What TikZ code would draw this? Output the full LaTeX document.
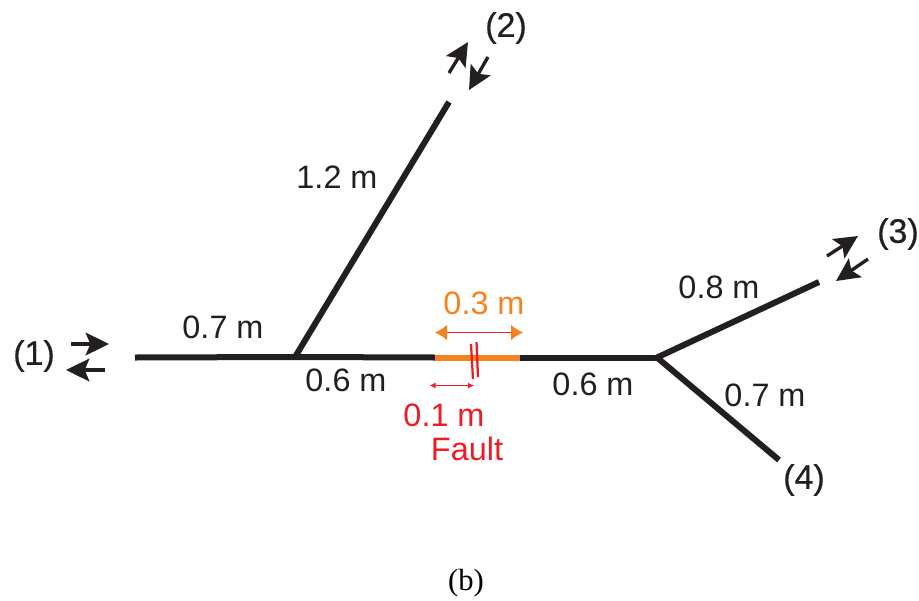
\documentclass[tikz,border=0pt]{standalone}
\usepackage{fontspec}
\setmainfont{Liberation Sans}
\newfontfamily\capfont{Liberation Serif}
\newfontfamily\portfont[FakeBold=0.5]{Liberation Sans}
\usetikzlibrary{arrows.meta}
\definecolor{cblack}{HTML}{231F20}
\definecolor{corange}{HTML}{F58220}
\definecolor{cred}{HTML}{ED1C24}
\tikzset{
  cable/.style={draw=cblack,line width=4.5bp},
  faulty/.style={draw=corange,line width=4.5bp},
  wave/.style={draw=cblack,line width=2.5bp,-{Stealth[length=17.5bp,width=17bp,inset=3.5bp]}},
  lab/.style={text=cblack,font=\fontsize{24.3bp}{28bp}\selectfont,inner sep=0pt},
  port/.style={text=cblack,font=\portfont\fontsize{25.5bp}{30bp}\selectfont,inner sep=0pt},
}
\begin{document}
\begin{tikzpicture}[x=0.75bp,y=-0.75bp]
\useasboundingbox (0,0) rectangle (919,601);
% junctions and ends
\coordinate (p1) at (135,357.5);
\coordinate (j1) at (295,357);
\coordinate (p2) at (449,102);
\coordinate (fa) at (435,357.5);
\coordinate (fb) at (520,357.5);
\coordinate (j2) at (657,357.5);
\coordinate (p3) at (819,282);
\coordinate (p4) at (779,460);
\draw[cable] (p1) -- (j1);
\draw[cable] (j1) -- (p2);
\draw[cable] (j1) -- (fa);
\draw[faulty] (fa) -- (fb);
\draw[cable] (fb) -- (j2);
\draw[cable] (j2) -- (p3);
\draw[cable] (j2) -- (p4);
% wave arrows
\coordinate (w1a) at (71,344); \coordinate (w1b) at (109,344);
\coordinate (w2a) at (105,370); \coordinate (w2b) at (66,370);
\draw[wave] (w1a) -- (w1b);
\draw[wave] (w2a) -- (w2b);
\coordinate (w3a) at (449,73); \coordinate (w3b) at (468,42);
\coordinate (w4a) at (488,57); \coordinate (w4b) at (469,90);
\draw[wave] (w3a) -- (w3b);
\draw[wave] (w4a) -- (w4b);
\coordinate (w5a) at (827,256); \coordinate (w5b) at (858,236);
\coordinate (w6a) at (868,259); \coordinate (w6b) at (836,281);
\draw[wave] (w5a) -- (w5b);
\draw[wave] (w6a) -- (w6b);
% extents and fault mark
\coordinate (o1) at (435,332.5); \coordinate (o2) at (523,332.5);
\draw[draw=cred,line width=0.9bp,{Latex[length=9bp,width=11.5bp,corange]}-{Latex[length=9bp,width=11.5bp,corange]}] (o1) -- (o2);
\coordinate (r1) at (429.5,385.5); \coordinate (r2) at (474,385.5);
\draw[draw=cred,line width=0.9bp,{Latex[length=4.5bp,width=4.5bp,cred]}-{Latex[length=4.5bp,width=4.5bp,cred]}] (r1) -- (r2);
\coordinate (m1a) at (471,344); \coordinate (m1b) at (473,379);
\coordinate (m2a) at (476.5,342); \coordinate (m2b) at (478,377);
\draw[cred,line width=1.7bp] (m1a) -- (m1b);
\draw[cred,line width=1.7bp] (m2a) -- (m2b);
% labels
\node[lab] (l1) at (337,177) {1.2 m};
\node[lab] (l2) at (223,327) {0.7 m};
\node[lab] (l3) at (346,380) {0.6 m};
\node[lab] (l4) at (593,384) {0.6 m};
\node[lab] (l5) at (719,287) {0.8 m};
\node[lab] (l6) at (765,395) {0.7 m};
\node[lab,text=corange] (l7) at (484,303) {0.3 m};
\node[lab,text=cred] (l8) at (444,415) {0.1 m};
\node[lab,text=cred] (l9) at (467,449) {Fault};
\node[port] (n1) at (34,356) {(1)};
\node[port] (n2) at (506,28) {(2)};
\node[port] (n3) at (898,234) {(3)};
\node[port] (n4) at (804,480) {(4)};
\node[inner sep=0pt,text=black,font=\capfont\fontsize{23bp}{26bp}\selectfont] (cap) at (466,583) {(b)};
\end{tikzpicture}
\end{document}
